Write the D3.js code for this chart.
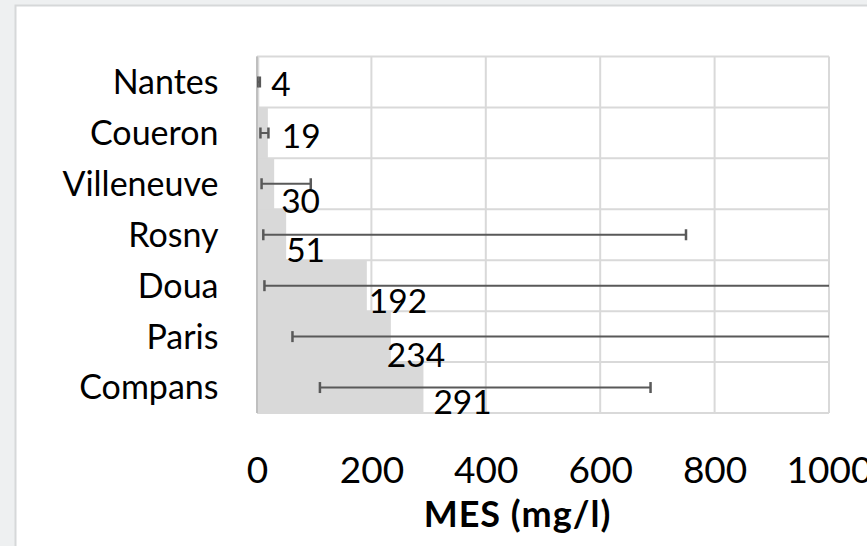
<!DOCTYPE html>
<html><head><meta charset="utf-8">
<script src="https://cdn.jsdelivr.net/npm/d3@7"></script>
<style>
html,body{margin:0;padding:0;background:#eef0f1;}
svg{display:block;}
text{font-family:Lato,"Noto Sans",sans-serif;fill:#000;}
</style></head>
<body>
<svg id="chart" width="867" height="546"></svg>
<script>
// ---- data ----
const categories = ["Nantes","Coueron","Villeneuve","Rosny","Doua","Paris","Compans"];
const values     = [4, 19, 30, 51, 192, 234, 291];
const errMin     = [1, 6, 8, 11, 13, 62, 110];
const errMax     = [5, 20, 94, 750, 1300, 1300, 688];
const xTicks     = [0, 200, 400, 600, 800, 1000];
const axisTitle  = "MES (mg/l)";

// ---- layout / style ----
const W = 867, H = 546;
const plot = {left: 257, right: 829, top: 56.5, bottom: 413};
const labelDx = [12, 14, 7, 0, 2, -4, 10];
const labelDy = [1.5, 3, 17.5, 15, 15.5, 18, 14];

const svg = d3.select("#chart");
svg.append("rect").attr("x",0).attr("y",0).attr("width",W).attr("height",H).attr("fill","#eef0f1");
svg.append("rect").attr("x",15.5).attr("y",5.5).attr("width",W+20).attr("height",H+20)
   .attr("fill","#fff").attr("stroke","#d6d8d9").attr("stroke-width",2);

const x = d3.scaleLinear().domain([0,1000]).range([plot.left, plot.right]);
const y = d3.scaleBand().domain(categories).range([plot.top, plot.bottom]).paddingInner(0).paddingOuter(0);

svg.append("defs").append("clipPath").attr("id","clip")
  .append("rect").attr("x",plot.left).attr("y",plot.top-10)
  .attr("width",plot.right-plot.left).attr("height",plot.bottom-plot.top+20);

// gridlines (vertical)
svg.append("g").selectAll("line").data(xTicks).join("line")
  .attr("x1",d=>x(d)).attr("x2",d=>x(d)).attr("y1",plot.top).attr("y2",plot.bottom)
  .attr("stroke","#d9d9d9").attr("stroke-width",2);
// gridlines (horizontal, at category boundaries)
const bounds = categories.map(c=>y(c)).concat([plot.bottom]);
svg.append("g").selectAll("line").data(bounds).join("line")
  .attr("x1",plot.left).attr("x2",plot.right).attr("y1",d=>d).attr("y2",d=>d)
  .attr("stroke","#d9d9d9").attr("stroke-width",2);

// bars
svg.append("g").selectAll("rect").data(categories).join("rect")
  .attr("x",x(0)).attr("y",c=>y(c)).attr("height",y.bandwidth())
  .attr("width",(c,i)=>x(values[i])-x(0)).attr("fill","#d9d9d9");

// left axis line
svg.append("line").attr("x1",x(0)).attr("x2",x(0)).attr("y1",plot.top).attr("y2",plot.bottom)
  .attr("stroke","#bfbfbf").attr("stroke-width",2);

// error bars
const eb = svg.append("g").attr("clip-path","url(#clip)").attr("stroke","#595959");
categories.forEach((c,i)=>{
  const cy = y(c)+y.bandwidth()/2;
  eb.append("line").attr("x1",x(errMin[i])).attr("x2",x(errMax[i])).attr("y1",cy).attr("y2",cy).attr("stroke-width",2);
  [errMin[i],errMax[i]].forEach(v=>{
    eb.append("line").attr("x1",x(v)).attr("x2",x(v)).attr("y1",cy-5.5).attr("y2",cy+5.5).attr("stroke-width",2.5);
  });
});

// data labels
svg.append("g").selectAll("text").data(categories).join("text")
  .attr("x",(c,i)=>x(values[i])+labelDx[i])
  .attr("y",(c,i)=>y(c)+y.bandwidth()/2+labelDy[i])
  .attr("dy","0.36em").attr("font-size",33.5)
  .text((c,i)=>values[i]);

// category labels
svg.append("g").selectAll("text").data(categories).join("text")
  .attr("x",218.5).attr("y",c=>y(c)+y.bandwidth()/2).attr("dy","0.35em")
  .attr("text-anchor","end").attr("font-size",34).text(c=>c);

// x tick labels
const xAxis = d3.axisBottom(x).tickValues(xTicks).tickSize(0).tickPadding(0).tickFormat(d3.format("d"));
const gx = svg.append("g").attr("transform",`translate(0,${plot.bottom})`).call(xAxis);
gx.select(".domain").remove();
gx.selectAll("text").attr("font-size",37).attr("font-family","Lato").attr("fill","#000")
  .attr("dy",null).attr("y",70.3);

// axis title
svg.append("text").attr("x",517.5).attr("y",527).attr("text-anchor","middle")
  .attr("font-size",36).attr("font-weight","bold").attr("letter-spacing",1).text(axisTitle);
</script>
</body></html>
